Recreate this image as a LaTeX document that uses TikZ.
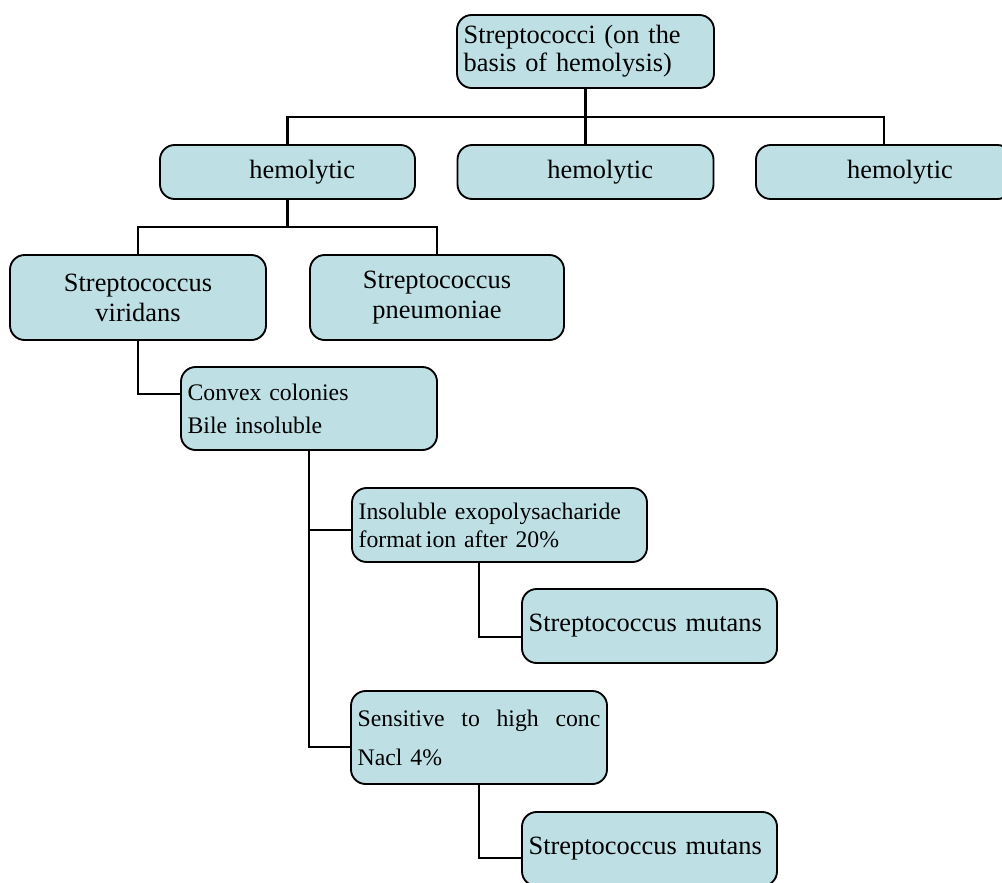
\documentclass[tikz,border=0pt]{standalone}
\usepackage{fontspec}
\setmainfont{Liberation Serif}
\definecolor{boxfill}{RGB}{190,224,228}
\newcommand\strepfont[1]{\fontsize{19.8}{#1}\selectfont}
\newcommand\testfont[1]{\fontsize{17.8}{#1}\selectfont}
\tikzset{
  bbox/.style={draw, fill=boxfill, line width=1.4pt, rounded corners=11pt,
    inner xsep=5pt, inner ysep=0pt},
  cbox/.style 2 args={bbox, align=center, text width=#1, minimum height=#2},
  lbox/.style 2 args={bbox, align=left, text width=#1, minimum height=#2},
  link/.style={line width=2.1pt},
}
\begin{document}
\begin{tikzpicture}[x=0.75pt, y=-0.75pt]
    \useasboundingbox (0,0) rectangle (1002,882);
    \clip (0,0) rectangle (1002,882);
    % boxes
    \node[lbox={182.75pt}{54.75pt}, font=\strepfont{21}] (root) at (585.5,51.5) {Streptococci (on the\\basis of hemolysis)};
    \node[cbox={181.25pt}{40.5pt}, font=\strepfont{21}] (beta) at (287.5,172) {\hspace*{22pt}hemolytic};
    \node[cbox={182pt}{40.5pt}, font=\strepfont{21}] (alpha) at (585.5,172) {\hspace*{22pt}hemolytic};
    \node[cbox={182pt}{40.5pt}, font=\strepfont{21}] (gamma) at (884,172) {\hspace*{24pt}hemolytic};
    \node[cbox={182pt}{63.75pt}, font=\strepfont{22.5}] (viridans) at (138,297.5) {Streptococcus\\viridans};
    \node[cbox={180.5pt}{63.75pt}, font=\strepfont{22.5}] (pneumo) at (437,297.5) {Streptococcus\\pneumoniae};
    \node[lbox={182pt}{62.25pt}, font=\testfont{24.75}] (convex) at (309,408.5) {Convex colonies\\Bile insoluble};
    \node[lbox={211.25pt}{55.5pt}, font=\testfont{21}] (insol) at (499.5,525) {Insoluble exopolysacharide\\format\hspace{3pt}ion after 20\%};
    \node[lbox={181.25pt}{55.5pt}, font=\strepfont{21}] (mutansa) at (649.5,626) {Streptococcus mutans};
    \node[lbox={182pt}{69.75pt}, font=\testfont{29.25}] (sensit) at (479,737.5) {\hbox to 182pt{Sensitive\hfill to\hfill high\hfill conc}\\Nacl 4\%};
    \node[lbox={181.25pt}{55.5pt}, font=\strepfont{21}] (mutansb) at (649.5,849) {Streptococcus mutans};
    % connectors
    \coordinate (rootbar) at (585.5,117);
    \coordinate (betabar) at (287.5,227);
    \coordinate (convexin) at (181,394);
    \coordinate (insolin) at (352,530);
    \coordinate (sensitin) at (351,747);
    \coordinate (insolout) at (479,562);
    \coordinate (mutansain) at (522,637);
    \coordinate (mutansbin) at (522,858);
    \draw[link] (root) -- (rootbar);
    \draw[link] (beta.north) |- (rootbar) -| (gamma.north);
    \draw[link] (rootbar) -- (alpha.north);
    \draw[link] (beta) -- (betabar);
    \draw[link] (viridans.north) |- (betabar) -| (pneumo.north);
    \draw[link] (viridans) |- (convexin);
    \draw[link] (convex) |- (sensitin);
    \draw[link] (convex.south |- insolin) -- (insolin);
    \draw[link] (insolout) |- (mutansain);
    \draw[link] (sensit) |- (mutansbin);
\end{tikzpicture}
\end{document}
